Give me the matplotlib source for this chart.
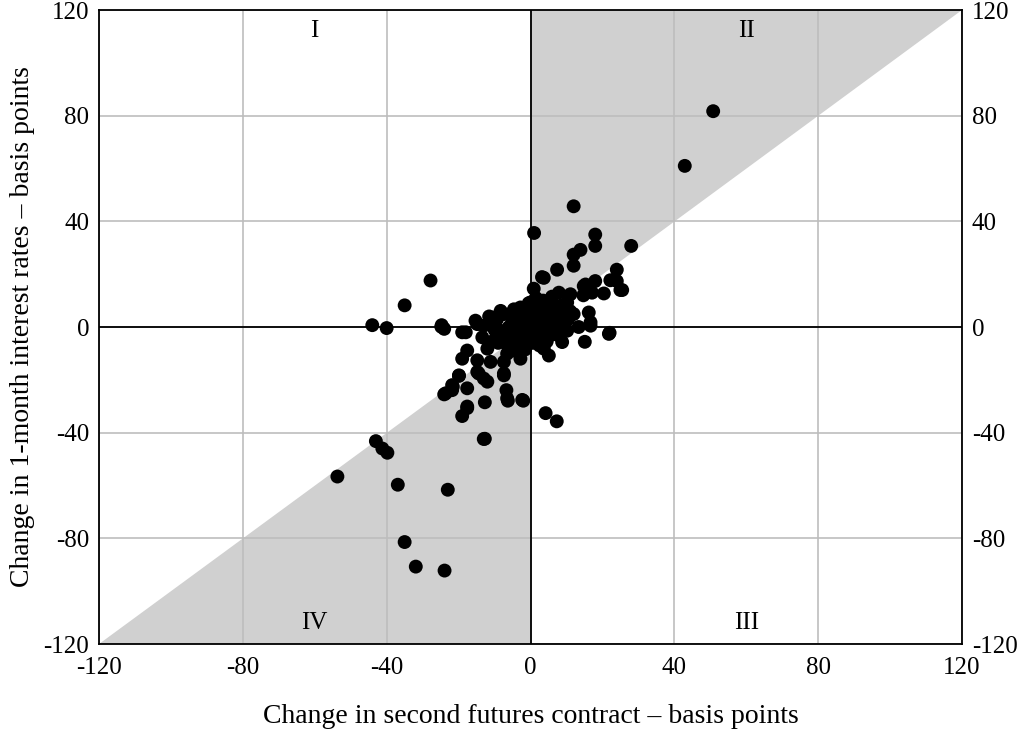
import numpy as np
import matplotlib.pyplot as plt
from matplotlib.patches import Polygon

plt.rcParams['font.family'] = ['Liberation Serif', 'DejaVu Serif']
plt.rcParams['axes.unicode_minus'] = False

# change in second futures contract (bp)
x_chg = [
    50.8, 42.9, 12.0, 1.0, 18.0, 18.0, 28.0, 13.9, 12.0, 12.0,
    7.4, 24.0, 3.2, -27.8, -35.0, -44.0, -40.0, -24.8, -24.0, 22.0,
    15.1, 4.2, 7.3, -12.7, -2.0, -6.3, -6.7, -12.7, -17.6, -19.0,
    -17.6, -24.0, -21.6, -19.9, -12.0, -7.4, -14.4, -43.0, -41.2, -39.8,
    -53.7, -36.9, -23.0, -13.0, -35.0, -31.9, -23.9, -21.8, 24.0, 25.0,
    22.2, 18.0, 14.8, 20.4, 17.1, 11.1, 7.9, 0.9, 16.2, 16.7,
    12.0, 9.7, -15.3, -19.0, -13.0, -4.6, -7.4, -9.3, 0.0, 1.4,
    5.6, 8.3, 10.2, 25.5, 15.3, 3.7, -8.3, -10.2, -2.8, -18.0,
    -14.8, -11.1, -13.4, -10.2, -17.6, -19.0, -14.8, -12.0, -6.5, -2.8,
    -7.4, -11.1, -14.8, -13.0, -7.4, -19.9, -21.8, -23.6, -6.5, -2.3,
    -17.6, -3.7, -1.9, 21.8, 8.8, 5.1, 3.7, 16.7, 13.4, 10.2,
    6.5, 4.6, -24.7, 14.7,
    # dense centre
    -8.0, -6.5, -5.0, -4.0, -3.0, -2.0, -1.0, 0.0, 1.0, 2.0,
    3.0, 4.0, 5.0, 6.0, 7.0, 8.0, 9.0, -7.0, -5.5, -4.5,
    -3.5, -2.5, -1.5, -0.5, 0.5, 1.5, 2.5, 3.5, 4.5, 5.5,
    6.5, 7.5, -6.0, -4.0, -2.0, 0.0, 2.0, 4.0, 6.0, -9.0,
    -5.0, -3.0, -1.0, 1.0, 3.0, 5.0, 7.0, 9.0, 11.0, -1.5,
    0.5, 2.5, 4.5, -3.5, -0.5, 1.5, 3.5, 6.0, 8.5, 10.5,
    -10.0, -9.0, -11.5, -8.5, -6.0,
]
# change in 1-month interest rates (bp)
y_chg = [
    81.7, 61.0, 45.7, 35.6, 35.0, 30.7, 30.7, 29.2, 27.4, 23.2,
    21.7, 21.7, 18.9, 17.6, 8.2, 0.7, -0.4, 0.1, -0.7, -2.2,
    -5.6, -32.6, -35.7, -42.3, -27.9, -27.9, -23.9, -28.5, -30.7, -33.7,
    -23.2, -25.5, -22.6, -18.5, -20.7, -17.6, -17.6, -43.2, -46.0, -47.6,
    -56.6, -59.7, -61.6, -42.4, -81.4, -90.7, -92.2, -23.9, 17.4, 14.0,
    17.7, 17.4, 15.5, 12.7, 13.0, 12.4, 13.0, 14.5, 5.5, 1.8,
    4.9, 1.8, 2.4, -2.0, 0.5, 6.7, 4.9, 3.0, 9.3, 10.5,
    10.5, 8.0, 9.3, 14.0, 16.1, 18.6, 6.1, 3.6, 7.4, -2.0,
    1.1, 1.8, -3.9, -5.1, -8.9, -12.0, -12.6, -8.2, -10.1, -12.0,
    -13.2, -13.2, -17.0, -19.5, -18.3, -18.3, -22.0, -25.1, -27.0, -27.6,
    -30.1, -8.2, -6.4, -2.6, -5.7, -10.8, -8.2, 0.5, 0.0, -1.4,
    -2.6, -4.5, 0.7, 12.0,
    # dense centre
    -3.0, -1.0, 2.0, -4.0, 1.0, -2.0, 3.0, 0.0, -1.5, 2.5,
    -3.0, 1.5, 4.0, -0.5, 2.0, 6.0, 3.5, -6.0, 5.0, -7.0,
    4.0, -5.0, 5.5, -3.5, 6.5, -4.5, 7.0, -2.0, 6.0, 1.0,
    5.0, -3.0, 0.0, -1.5, 0.5, 3.0, 8.0, 4.5, 7.5, -1.0,
    -3.0, 2.5, -6.5, 5.0, 8.5, -1.0, 1.5, 4.0, 6.0, -8.5,
    -6.0, -7.0, -5.5, -9.5, 9.0, 11.0, 10.0, 11.5, -2.5, 3.0,
    -1.0, -6.0, 4.0, -3.0, -9.0,
]

ticks = [-120, -80, -40, 0, 40, 80, 120]
quadrants = ['I', 'II', 'III', 'IV']
quad_x = [-60, 60, 60, -60]
quad_y = [112, 112, -112, -112]

fig = plt.figure(figsize=(10.3, 7.31), dpi=100)
ax = fig.add_axes([0.0961, 0.119, 0.8379, 0.8673])
lim = 120
ax.set_xlim(-lim, lim)
ax.set_ylim(-lim, lim)

# shaded areas between the 45 degree line and the axes
shade = '#d0d0d0'
ax.add_patch(Polygon([(0, 0), (0, lim), (lim, lim)], closed=True,
                     facecolor=shade, edgecolor='none', zorder=0))
ax.add_patch(Polygon([(0, 0), (0, -lim), (-lim, -lim)], closed=True,
                     facecolor=shade, edgecolor='none', zorder=0))

ax.set_xticks(ticks)
ax.set_yticks(ticks)
ax.grid(True, color='#bdbdbd', linewidth=1.2, zorder=1)
ax.set_axisbelow(True)
ax.axhline(0, color='black', linewidth=1.3, zorder=2)
ax.axvline(0, color='black', linewidth=1.3, zorder=2)

ax.scatter(x_chg, y_chg, s=100, color='black', edgecolors='none', zorder=3)

for lab, qx, qy in zip(quadrants, quad_x, quad_y):
    ax.text(qx, qy, lab, ha='center', va='center', fontsize=18, zorder=4)

ax.tick_params(axis='both', length=0, labelsize=18)
ax.tick_params(axis='x', pad=9)
ax.tick_params(axis='y', pad=7, labelright=True, right=False)
for s in ax.spines.values():
    s.set_linewidth(1.3)
    s.set_color('black')

ax.set_xlabel('Change in second futures contract \u2013 basis points', fontsize=20, labelpad=18)
ax.set_ylabel('Change in 1-month interest rates \u2013 basis points', fontsize=20, labelpad=6)

fig.savefig('out.png', dpi=100)
